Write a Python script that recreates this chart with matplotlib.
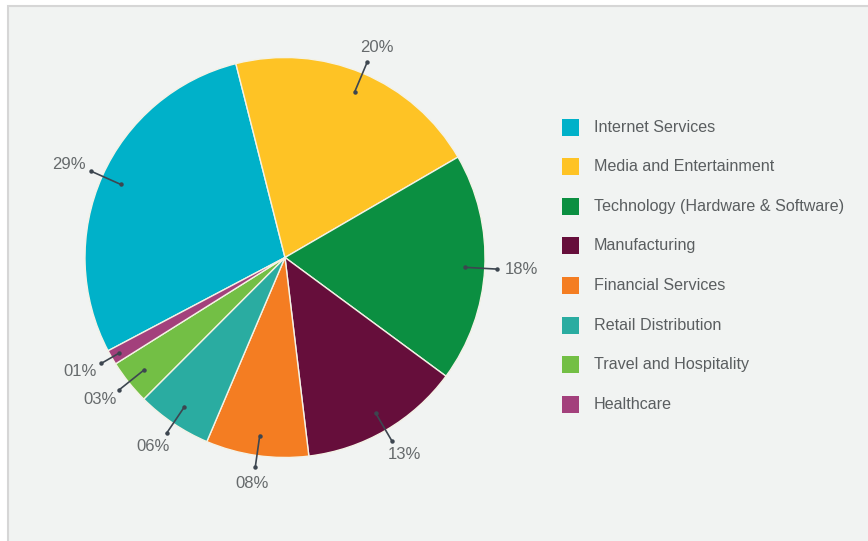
import numpy as np
import matplotlib
matplotlib.use("Agg")
import matplotlib.pyplot as plt
from matplotlib.patches import Rectangle

# slice shares (labels are the printed, rounded values)
categories = ["Internet Services", "Media and Entertainment",
              "Technology (Hardware & Software)", "Manufacturing",
              "Financial Services", "Retail Distribution",
              "Travel and Hospitality", "Healthcare"]
shares = [28.8, 20.6, 18.5, 13.0, 8.3, 6.1, 3.6, 1.2]
pct_labels = ["29%", "20%", "18%", "13%", "08%", "06%", "03%", "01%"]
colors = ["#00b1c9", "#fec325", "#0b8f41", "#660e3b",
          "#f47d22", "#2aaca1", "#73bf45", "#a3407c"]

W, H = 868, 541
fig = plt.figure(figsize=(W / 100, H / 100), dpi=100, facecolor="white")

# light grey panel with a thin border
fig.patches.append(Rectangle((8 / W, -0.01), 1.0, 1 - 6 / H + 0.01,
                             transform=fig.transFigure, facecolor="#f1f3f2",
                             edgecolor="#d6d6d6", linewidth=1.5, zorder=-5))

# pie axes: centre at (285, 257.5) px, radius 203 px
R = 203.0
half = 250.0
cx, cy = 285, 257.5
ax = fig.add_axes([(cx - half) / W, (H - cy - half) / H, 2 * half / W, 2 * half / H])
ax.set_xlim(-half / R, half / R)
ax.set_ylim(-half / R, half / R)
ax.set_aspect("equal")
ax.axis("off")
ax.set_zorder(1)

wedges, _ = ax.pie(shares, colors=colors, startangle=207.8, counterclock=False,
                   radius=1.0, wedgeprops=dict(edgecolor="#f4f2e6", linewidth=1.0))

for w, lab in zip(wedges, pct_labels):
    ang = np.deg2rad((w.theta1 + w.theta2) / 2)
    c, s = np.cos(ang), np.sin(ang)
    r_in = 0.9 if (w.theta2 - w.theta1) > 8 else 0.96
    xo, yo = 1.06 * c, 1.06 * s
    ax.plot([r_in * c, xo], [r_in * s, yo], color="#3d4650", lw=1.2)
    ax.plot([r_in * c, xo], [r_in * s, yo], "o", color="#3d4650", ms=2.2)
    # label centre sits on an ellipse round the outer dot (px -> data)
    ax.text(xo + 25 * c / R, yo + 16 * s / R, lab, ha="center", va="center",
            fontsize=12, color="#666a6c", family="Liberation Sans")

# legend drawn in pixel positions
for i, (name, col) in enumerate(zip(categories, colors)):
    yc = 127 + i * 39.6
    fig.patches.append(Rectangle((562 / W, 1 - (yc + 8.5) / H), 17 / W, 17 / H,
                                 transform=fig.transFigure, facecolor=col,
                                 edgecolor="none", zorder=2))
    fig.text(594 / W, 1 - yc / H, name, ha="left", va="center", fontsize=11.6,
             color="#5a5e60", family="Liberation Sans")

fig.savefig("out.png", dpi=100, facecolor=fig.get_facecolor())
